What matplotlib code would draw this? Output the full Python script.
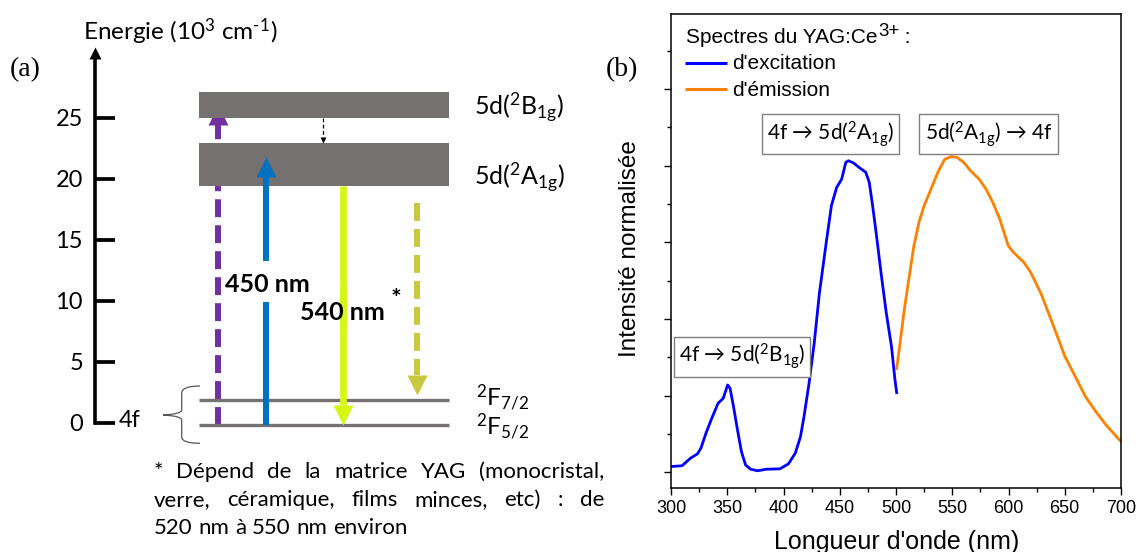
import numpy as np
import matplotlib
matplotlib.use("Agg")
import matplotlib.pyplot as plt
import matplotlib.transforms as mtransforms
from matplotlib.path import Path
from matplotlib.patches import PathPatch

plt.rcParams['font.family'] = ['Lato', 'DejaVu Sans']
plt.rcParams['mathtext.fontset'] = 'custom'
plt.rcParams['mathtext.rm'] = 'Lato'
plt.rcParams['mathtext.it'] = 'Lato:italic'
plt.rcParams['mathtext.bf'] = 'Lato:bold'

W, H, DPI = 1137, 552, 100
ARIAL = ['Liberation Sans', 'DejaVu Sans']
SERIF = ['Liberation Serif', 'DejaVu Serif']

# ------------------ (a) energy diagram, 10^3 cm-1 ------------------
energy_ticks = [0, 5, 10, 15, 20, 25]
band_names = ['5d($\\mathregular{^2}$B$\\mathregular{_{1g}}$)',
              '5d($\\mathregular{^2}$A$\\mathregular{_{1g}}$)']
band_bottom = [25.0, 19.4]
band_top = [27.1, 22.95]
f_names = ['$\\mathregular{^2F_{5/2}}$', '$\\mathregular{^2F_{7/2}}$']
f_levels = [-0.2, 1.85]

# transitions (start, end) in 10^3 cm-1
trans_5dB = (-0.2, 26.0)      # absorption to 5d(2B1g), dashed violet
trans_450 = (-0.2, 21.8)      # absorption 450 nm
trans_540 = (19.4, -0.2)      # emission 540 nm
trans_var = (18.0, 2.25)      # emission, depends on matrix
relax = (25.0, 22.95)         # 5d(2B1g) -> 5d(2A1g)

footnote = ["* Dépend de la matrice YAG (monocristal,",
            "verre, céramique, films minces, etc) : de",
            "520 nm à 550 nm environ"]

# ------------------ (b) spectra ------------------
wl_exc = [300, 309.8, 317.4, 323.5, 326.6, 331.1, 335.7, 341.8, 346.4, 350.4,
          352.5, 355.6, 358.6, 362.6, 366.3, 370.8, 376.9, 384.6, 396.8, 404.4,
          410.5, 415.1, 418.2, 422.7, 427.3, 431.9, 438.0, 442.6, 447.2, 451.7,
          455.4, 457.8, 462.4, 467.0, 473.1, 476.2, 479.2, 482.3, 486.9, 491.4,
          496.0, 499.1, 500.6]
int_exc = [0.015, 0.017, 0.037, 0.048, 0.063, 0.102, 0.137, 0.180, 0.193, 0.228,
           0.219, 0.171, 0.119, 0.054, 0.019, 0.008, 0.004, 0.008, 0.009, 0.022,
           0.050, 0.093, 0.145, 0.232, 0.337, 0.467, 0.600, 0.696, 0.743, 0.765,
           0.809, 0.813, 0.807, 0.796, 0.783, 0.757, 0.696, 0.626, 0.516, 0.415,
           0.328, 0.241, 0.208]
wl_em = [500.6, 503.6, 507.3, 511.3, 515.9, 520.4, 525.0, 531.1, 537.2, 543.3,
         549.4, 554.0, 560.1, 566.2, 573.9, 580.0, 586.1, 592.2, 599.8, 604.4,
         613.6, 619.7, 628.8, 638.0, 650.2, 659.3, 668.5, 677.7, 686.8, 700.0]
int_em = [0.271, 0.337, 0.423, 0.502, 0.591, 0.652, 0.696, 0.739, 0.783, 0.817,
          0.824, 0.822, 0.809, 0.787, 0.765, 0.739, 0.704, 0.661, 0.591, 0.574,
          0.548, 0.522, 0.467, 0.397, 0.302, 0.250, 0.197, 0.158, 0.123, 0.080]
legend_title = 'Spectres du YAG:Ce'
legend_labels = ["d'excitation", "d'émission"]

fig = plt.figure(figsize=(W / DPI, H / DPI), dpi=DPI)

# ------------------ panel (a) ------------------
# x in figure pixels, y in energy units
PPU = 12.2          # pixels per 10^3 cm-1
E0_PX = 422.5       # pixel row (from top) of E = 0
axL = fig.add_axes([0, 0, 600 / W, 1])
axL.set_xlim(0, 600)
axL.set_ylim((E0_PX - H) / PPU, E0_PX / PPU)
axL.patch.set_visible(False)
for s in ['top', 'right', 'bottom']:
    axL.spines[s].set_visible(False)
axL.set_xticks([])
axL.spines['left'].set_position(('data', 94.5))
axL.spines['left'].set_bounds(0, 29.9)
axL.spines['left'].set_linewidth(2.6)
axL.spines['left'].set_capstyle('projecting')
axL.set_yticks(energy_ticks)
axL.tick_params(axis='y', direction='in', length=14.5, width=2.7, pad=8.3,
                labelsize=17)
axL.plot(94.5, 30.3, marker='^', ms=9, color='k', mec='none', clip_on=False)
axL.text(83, 31.35, 'Energie (10$\\mathregular{^3}$ cm$\\mathregular{^{\u2010}}$$\\mathregular{^1}$)',
         fontsize=17.5, va='baseline', ha='left')
axL.text(118.6, -0.35, '4f', fontsize=17, va='baseline', ha='left')

GRAY = '#767171'
X0, X1 = 199, 448.5
axL.bar((X0 + X1) / 2, np.subtract(band_top, band_bottom), bottom=band_bottom,
        width=X1 - X0, color=GRAY, zorder=2)
axL.hlines(f_levels, X0, X1, color=GRAY, lw=2.4, zorder=2)

label_base = [25.2, 19.47]
for name, yb in zip(band_names, label_base):
    axL.text(474.5, yb, name, fontsize=18, va='baseline', ha='left')
for name, yb in zip(f_names, [-0.97, 1.35]):
    axL.text(476.5, yb, name, fontsize=17.5, va='baseline', ha='left')

# brace grouping the 4f levels
bx = [200, 181.7, 181.7, 181.7, 181.7, 163, 181.7, 181.7, 181.7, 181.7, 200]
by = [386, 386, 393, 410, 414, 415, 416, 420, 437, 443.3, 443.3]
codes = [Path.MOVETO, Path.CURVE3, Path.CURVE3, Path.LINETO, Path.CURVE3,
         Path.CURVE3, Path.CURVE3, Path.CURVE3, Path.LINETO, Path.CURVE3, Path.CURVE3]
verts = [(x, (E0_PX - y) / PPU) for x, y in zip(bx, by)]
axL.add_patch(PathPatch(Path(verts, codes), fill=False, ec='#555555', lw=0.9))


def vert_arrow(x, e0, e1, color, lw, ls='-', gap=None, head_px=20, z=3):
    d = np.sign(e1 - e0)
    head = head_px / PPU
    base = e1 - d * head
    if gap is None:
        segs = [(e0, base)]
    else:
        segs = [(e0, gap[0]), (gap[1], base)]
    for a, b in segs:
        axL.plot([x, x], [a, b], color=color, lw=lw, ls=ls,
                 solid_capstyle='butt', dash_capstyle='butt', zorder=z)
    axL.plot(x, e1 - d * head / 2, marker='^' if d > 0 else 'v',
             ms=head_px * 0.72, color=color, mec='none', zorder=z)


dash = (0, (3.0, 1.35))
vert_arrow(218.3, *trans_5dB, '#7030a0', 4.3, ls=dash, z=1)
vert_arrow(266, *trans_450, '#0070c0', 4.3, gap=(9.85, 13.24))
vert_arrow(343.3, *trans_540, '#d4f713', 4.8, gap=(7.58, 11.19))
vert_arrow(416.7, *trans_var, '#c9c83e', 4.3, ls=dash)
vert_arrow(323, *relax, 'k', 0.9, ls=(0, (3, 2)), head_px=6)

axL.text(225, 10.72, '450 nm', fontsize=18, fontweight='bold', va='baseline')
axL.text(300, 8.4, '540 nm', fontsize=18, fontweight='bold', va='baseline')
axL.text(396, 10.1, '*', fontsize=18, fontweight='bold', va='center', ha='center')

# justified footnote
renderer = fig.canvas.get_renderer()
ident = mtransforms.IdentityTransform()
FN = 16
fx0, fx1 = 154, 604
for k, (line, yb) in enumerate(zip(footnote, [478, 506, 534])):
    words = line.split(' ')
    texts = [fig.text(0, H - yb, w, fontsize=FN, transform=ident, va='baseline')
             for w in words]
    widths = [t.get_window_extent(renderer).width for t in texts]
    if k < len(footnote) - 1:
        gapw = (fx1 - fx0 - sum(widths)) / (len(words) - 1)
    else:
        sp = fig.text(0, 0, 'a a', fontsize=FN, transform=ident)
        sp2 = fig.text(0, 0, 'aa', fontsize=FN, transform=ident)
        gapw = sp.get_window_extent(renderer).width - sp2.get_window_extent(renderer).width
        sp.remove()
        sp2.remove()
    x = fx0
    for t, w in zip(texts, widths):
        t.set_x(x)
        x += w + gapw

# ------------------ panel (b) ------------------
axR = fig.add_axes([671 / W, 64 / H, 450 / W, 474 / H])
l1, = axR.plot(wl_exc, int_exc, color='#0000ff', lw=2)
l2, = axR.plot(wl_em, int_em, color='#ff8000', lw=2)
axR.set_xlim(300, 700)
axR.set_ylim(-0.041, 1.196)
axR.set_xticks(np.arange(300, 701, 50))
axR.set_xticks(np.arange(325, 700, 50), minor=True)
axR.set_yticks(np.arange(0, 1.01, 0.2))
axR.set_yticks(np.arange(0.1, 1.15, 0.2), minor=True)
axR.set_yticklabels([])
axR.tick_params(which='major', direction='out', length=5, width=1, labelsize=13)
axR.tick_params(which='minor', direction='out', length=3, width=1)
for lab in axR.get_xticklabels():
    lab.set_family(ARIAL)
for s in axR.spines.values():
    s.set_linewidth(1.1)
axR.set_xlabel("Longueur d'onde (nm)", fontsize=18, family=ARIAL)
axR.xaxis.set_label_coords(0.502, -0.088)
axR.set_ylabel('Intensité normalisée', fontsize=17.5, family=ARIAL)
axR.yaxis.set_label_coords(-0.066, 0.506)

# legend, laid out by hand
tt = axR.text(0.033, (488 - 43.3) / 474, legend_title, transform=axR.transAxes,
              fontsize=15, family=ARIAL, va='baseline', ha='left')
sup = axR.annotate('3+', xy=(1, 1), xycoords=tt, xytext=(0.5, 3.5),
                   textcoords='offset points', fontsize=13.5, family=ARIAL,
                   va='top', ha='left')
axR.annotate(' :', xy=(1, 0), xycoords=(sup, tt), fontsize=15, family=ARIAL,
             va='bottom', ha='left')
for line, lab, yp in zip([l1, l2], legend_labels, [62.5, 89]):
    yf = (488 - yp) / 474
    axR.plot([0.031, 0.125], [yf, yf], transform=axR.transAxes,
             color=line.get_color(), lw=2.2, solid_capstyle='butt')
    axR.text(0.135, yf - 0.003, lab, transform=axR.transAxes, fontsize=15,
             family=ARIAL, va='center', ha='left')

box = dict(boxstyle='square,pad=0.25', fc='white', ec='#7f7f7f', lw=1)
axR.text(441.8, 0.883, '4f → 5d($\\mathregular{^2}$A$\\mathregular{_{1g}}$)',
         fontsize=15, ha='center', va='center', bbox=box)
axR.text(582.2, 0.883, '5d($\\mathregular{^2}$A$\\mathregular{_{1g}}$) → 4f',
         fontsize=15, ha='center', va='center', bbox=box)
axR.text(363.1, 0.302, '4f → 5d($\\mathregular{^2}$B$\\mathregular{_{1g}}$)',
         fontsize=15, ha='center', va='center', bbox=box)

fig.text(10 / W, 1 - 70 / H, '(a)', family=SERIF, fontsize=20, va='center')
fig.text(606 / W, 1 - 70 / H, '(b)', family=SERIF, fontsize=20, va='center')

fig.savefig('out.png', dpi=DPI)
